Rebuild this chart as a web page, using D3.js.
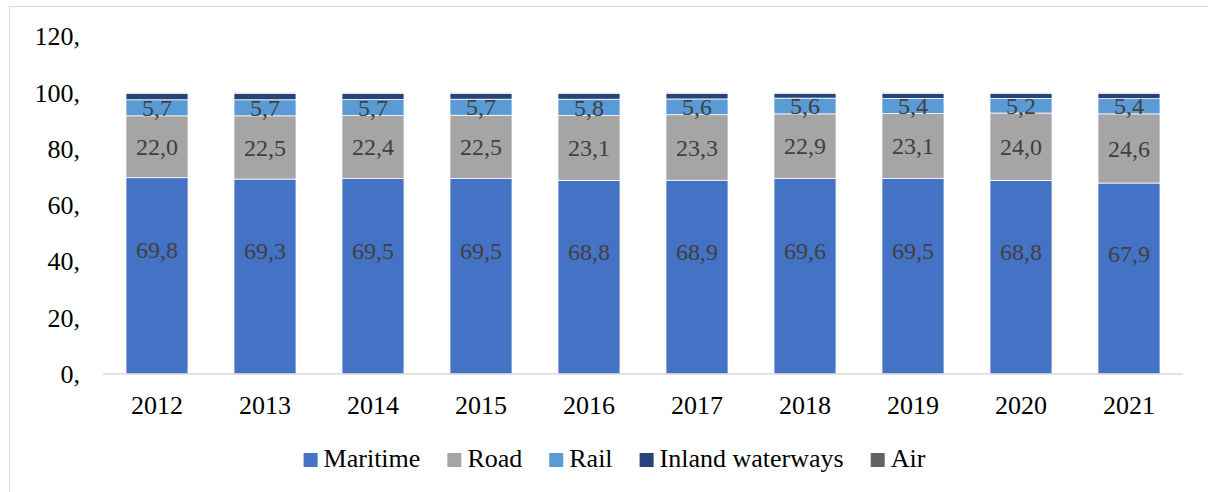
<!DOCTYPE html>
<html>
<head>
<meta charset="utf-8">
<script src="https://cdn.jsdelivr.net/npm/d3@7"></script>
<style>
  body { margin: 0; background: #fff; }
  svg text { font-family: "Liberation Serif", "DejaVu Serif", serif; }
</style>
</head>
<body>
<svg id="chart" width="1208" height="492"></svg>
<script>
var years = ["2012","2013","2014","2015","2016","2017","2018","2019","2020","2021"];
var maritime = [69.8,69.3,69.5,69.5,68.8,68.9,69.6,69.5,68.8,67.9];
var road = [22.0,22.5,22.4,22.5,23.1,23.3,22.9,23.1,24.0,24.6];
var rail = [5.7,5.7,5.7,5.7,5.8,5.6,5.6,5.4,5.2,5.4];
var inland = [2.3,2.3,2.2,2.1,2.1,2.0,1.7,1.8,1.8,1.9];
var air = [0.2,0.2,0.2,0.2,0.2,0.2,0.2,0.2,0.2,0.2];
var yTicks = [0,20,40,60,80,100,120];

var seriesNames = ["Maritime","Road","Rail","Inland waterways","Air"];
var seriesVals = [maritime, road, rail, inland, air];
var colors = ["#4472C4","#A5A5A5","#5B9BD5","#264478","#636363"];
var showLabel = [true, true, true, false, false];
var labelPos = [0.63, 0.5, 0.5, 0.5, 0.5];
var serif = "'Liberation Serif', 'DejaVu Serif', serif";

var svg = d3.select("#chart");

// outer frame
svg.append("rect")
  .attr("x", 9.5).attr("y", 6.5)
  .attr("width", 1300).attr("height", 600)
  .attr("fill", "none").attr("stroke", "#d9d9d9").attr("stroke-width", 1);

var x = d3.scaleBand().domain(years).range([103, 1183]).paddingInner(0.426).paddingOuter(0.213);
var y = d3.scaleLinear().domain([0, 120]).range([374, 36.5]);

// y labels
svg.selectAll(".ylab").data(yTicks).enter().append("text")
  .attr("x", 80).attr("y", function(d){ return y(d); })
  .attr("dy", "0.34em")
  .attr("text-anchor", "end")
  .attr("font-family", serif)
  .attr("font-size", 26).attr("fill", "#000")
  .text(function(d){ return d + ","; });

// stacked bars
var rows = years.map(function(yr, i){
  var r = {year: yr};
  seriesNames.forEach(function(s, k){ r[s] = seriesVals[k][i]; });
  return r;
});
var stacked = d3.stack().keys(seriesNames)(rows);

stacked.forEach(function(layer, k){
  var g = svg.append("g");
  g.selectAll("rect").data(layer).enter().append("rect")
    .attr("x", function(d){ return x(d.data.year); })
    .attr("y", function(d){ return y(d[1]); })
    .attr("width", x.bandwidth())
    .attr("height", function(d){ return y(d[0]) - y(d[1]); })
    .attr("fill", colors[k])
    .attr("stroke", "#ffffff").attr("stroke-width", 0.75);
  if (showLabel[k]) {
    g.selectAll("text").data(layer).enter().append("text")
      .attr("x", function(d){ return x(d.data.year) + x.bandwidth()/2; })
      .attr("y", function(d){ return y(d[0] + (d[1]-d[0]) * labelPos[k]); })
      .attr("dy", "0.34em")
      .attr("text-anchor", "middle")
      .attr("font-family", serif)
      .attr("font-size", 24).attr("fill", "#404040")
      .text(function(d){ return (d[1]-d[0]).toFixed(1).replace(".", ","); });
  }
});

// x axis line
svg.append("line")
  .attr("x1", 103).attr("x2", 1183)
  .attr("y1", y(0)).attr("y2", y(0))
  .attr("stroke", "#d9d9d9").attr("stroke-width", 1.5);

svg.selectAll(".xlab").data(years).enter().append("text")
  .attr("x", function(d){ return x(d) + x.bandwidth()/2; })
  .attr("y", 414)
  .attr("text-anchor", "middle")
  .attr("font-family", serif)
  .attr("font-size", 26).attr("fill", "#000")
  .text(function(d){ return d; });

// legend
var legend = svg.append("g");
var lx = 0;
seriesNames.forEach(function(s, k){
  var item = legend.append("g").attr("transform", "translate(" + lx + ",0)");
  item.append("rect").attr("x", 0).attr("y", 453).attr("width", 14).attr("height", 14).attr("fill", colors[k]);
  var t = item.append("text").attr("x", 20).attr("y", 467)
    .attr("font-family", serif)
    .attr("font-size", 26).attr("fill", "#000").text(s);
  lx += 20 + t.node().getComputedTextLength() + 27;
});
var legW = lx - 27;
legend.attr("transform", "translate(" + (614.5 - legW/2) + ",0)");
</script>
</body>
</html>
